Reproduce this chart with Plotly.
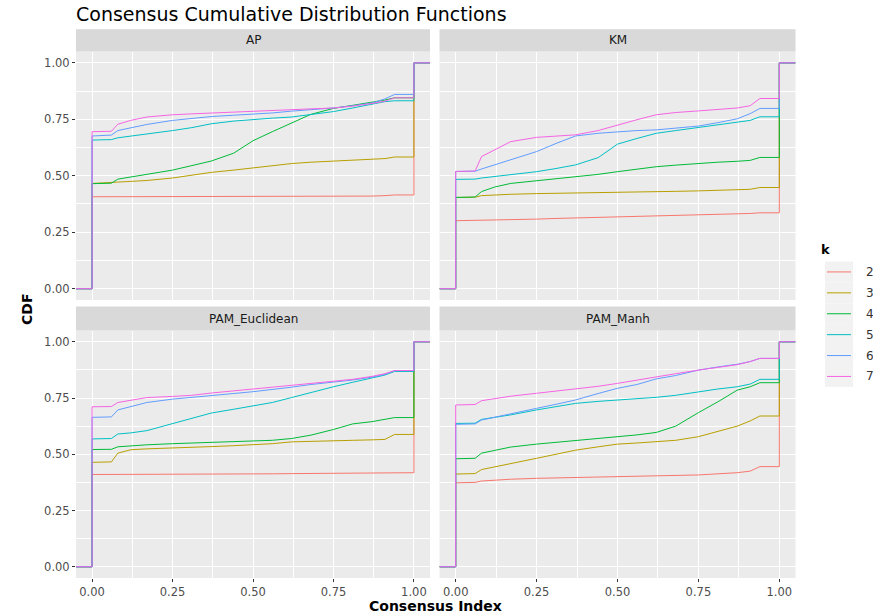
import plotly.graph_objects as go

W, H = 873, 615

# ---------------- data ----------------
PANELS = ["AP", "KM", "PAM_Euclidean", "PAM_Manh"]
K_LEVELS = ["2", "3", "4", "5", "6", "7"]
COLORS = ["#F8766D", "#B79F00", "#00BA38", "#00BFC4", "#619CFF", "#F564E3"]

# consensus-index positions where the CDF values below were read
GRID = [0, 0.06, 0.08, 0.12, 0.17, 0.25, 0.31, 0.37, 0.44, 0.50,
        0.56, 0.62, 0.68, 0.75, 0.81, 0.87, 0.91, 0.94]

AP_k2 = [0.407, 0.407, 0.407, 0.407, 0.407, 0.407, 0.407, 0.407, 0.407, 0.407,
         0.407, 0.407, 0.407, 0.408, 0.409, 0.410, 0.412, 0.415]
AP_k3 = [0.466, 0.468, 0.472, 0.475, 0.479, 0.490, 0.503, 0.515, 0.525, 0.535,
         0.545, 0.554, 0.560, 0.565, 0.569, 0.573, 0.576, 0.583]
AP_k4 = [0.465, 0.467, 0.485, 0.495, 0.508, 0.525, 0.545, 0.565, 0.600, 0.655,
         0.695, 0.735, 0.772, 0.798, 0.812, 0.825, 0.835, 0.845]
AP_k5 = [0.658, 0.660, 0.668, 0.675, 0.685, 0.700, 0.713, 0.730, 0.742, 0.750,
         0.755, 0.760, 0.772, 0.784, 0.800, 0.818, 0.828, 0.832]
AP_k6 = [0.676, 0.680, 0.700, 0.713, 0.727, 0.745, 0.755, 0.762, 0.768, 0.772,
         0.778, 0.786, 0.792, 0.800, 0.810, 0.822, 0.840, 0.860]
AP_k7 = [0.695, 0.697, 0.728, 0.745, 0.760, 0.770, 0.774, 0.778, 0.783, 0.787,
         0.790, 0.793, 0.796, 0.800, 0.808, 0.820, 0.830, 0.845]

KM_k2 = [0.301, 0.302, 0.303, 0.304, 0.306, 0.308, 0.311, 0.313, 0.316, 0.319,
         0.321, 0.323, 0.325, 0.327, 0.329, 0.331, 0.333, 0.336]
KM_k3 = [0.404, 0.405, 0.412, 0.416, 0.418, 0.421, 0.422, 0.424, 0.425, 0.427,
         0.428, 0.430, 0.431, 0.433, 0.435, 0.438, 0.440, 0.448]
KM_k4 = [0.404, 0.406, 0.430, 0.450, 0.466, 0.478, 0.486, 0.495, 0.506, 0.518,
         0.530, 0.540, 0.547, 0.555, 0.560, 0.564, 0.568, 0.581]
KM_k5 = [0.484, 0.485, 0.490, 0.496, 0.505, 0.518, 0.532, 0.548, 0.580, 0.640,
         0.665, 0.688, 0.700, 0.713, 0.724, 0.735, 0.745, 0.761]
KM_k6 = [0.519, 0.520, 0.530, 0.548, 0.570, 0.607, 0.643, 0.676, 0.688, 0.695,
         0.700, 0.703, 0.710, 0.720, 0.735, 0.752, 0.775, 0.798]
KM_k7 = [0.519, 0.521, 0.585, 0.614, 0.651, 0.670, 0.676, 0.681, 0.700, 0.725,
         0.748, 0.770, 0.780, 0.787, 0.793, 0.800, 0.810, 0.842]

PE_k2 = [0.410, 0.410, 0.410, 0.410, 0.410, 0.411, 0.411, 0.412, 0.412, 0.413,
         0.413, 0.414, 0.415, 0.416, 0.417, 0.417, 0.418, 0.418]
PE_k3 = [0.464, 0.466, 0.505, 0.520, 0.524, 0.527, 0.530, 0.534, 0.538, 0.542,
         0.547, 0.555, 0.558, 0.560, 0.562, 0.564, 0.566, 0.588]
PE_k4 = [0.521, 0.522, 0.533, 0.538, 0.542, 0.547, 0.550, 0.553, 0.556, 0.558,
         0.562, 0.570, 0.585, 0.610, 0.635, 0.645, 0.655, 0.663]
PE_k5 = [0.568, 0.570, 0.590, 0.595, 0.605, 0.635, 0.658, 0.683, 0.700, 0.714,
         0.730, 0.752, 0.775, 0.800, 0.820, 0.838, 0.852, 0.868]
PE_k6 = [0.664, 0.666, 0.697, 0.713, 0.730, 0.745, 0.752, 0.760, 0.770, 0.778,
         0.787, 0.798, 0.810, 0.820, 0.830, 0.843, 0.855, 0.872]
PE_k7 = [0.711, 0.712, 0.730, 0.740, 0.752, 0.757, 0.762, 0.772, 0.783, 0.790,
         0.798, 0.806, 0.814, 0.822, 0.833, 0.846, 0.858, 0.872]

PM_k2 = [0.373, 0.375, 0.381, 0.385, 0.389, 0.393, 0.395, 0.397, 0.399, 0.400,
         0.401, 0.402, 0.404, 0.408, 0.413, 0.418, 0.425, 0.445]
PM_k3 = [0.412, 0.414, 0.432, 0.443, 0.460, 0.482, 0.500, 0.518, 0.533, 0.545,
         0.550, 0.555, 0.562, 0.578, 0.600, 0.625, 0.648, 0.670]
PM_k4 = [0.480, 0.482, 0.505, 0.518, 0.532, 0.545, 0.553, 0.560, 0.570, 0.578,
         0.586, 0.597, 0.625, 0.685, 0.733, 0.785, 0.800, 0.818]
PM_k5 = [0.637, 0.638, 0.655, 0.663, 0.675, 0.697, 0.712, 0.726, 0.735, 0.741,
         0.746, 0.753, 0.762, 0.778, 0.790, 0.800, 0.812, 0.833]
PM_k6 = [0.633, 0.635, 0.652, 0.665, 0.680, 0.704, 0.722, 0.741, 0.770, 0.793,
         0.810, 0.835, 0.850, 0.874, 0.888, 0.900, 0.912, 0.926]
PM_k7 = [0.719, 0.721, 0.738, 0.748, 0.758, 0.771, 0.780, 0.789, 0.802, 0.815,
         0.830, 0.845, 0.858, 0.874, 0.885, 0.898, 0.912, 0.926]

SERIES = {
    "AP": [AP_k2, AP_k3, AP_k4, AP_k5, AP_k6, AP_k7],
    "KM": [KM_k2, KM_k3, KM_k4, KM_k5, KM_k6, KM_k7],
    "PAM_Euclidean": [PE_k2, PE_k3, PE_k4, PE_k5, PE_k6, PE_k7],
    "PAM_Manh": [PM_k2, PM_k3, PM_k4, PM_k5, PM_k6, PM_k7],
}

TICKS = [0, 0.25, 0.5, 0.75, 1.0]

# ---------------- layout geometry (pixels) ----------------
XR = [-0.05, 1.05]
YR = [-0.05, 1.05]
COLS = [(76, 430), (439.5, 795.5)]          # panel x extents
ROWS = [(51.5, 300), (330.5, 578)]          # panel y extents (top, bottom)
STRIPS = [(29.3, 51.5), (306.5, 330.5)]     # strip y extents


def px_x(p):
    return p / W


def px_y(p):
    return 1 - p / H


fig = go.Figure()

layout = dict(
    width=W, height=H,
    margin=dict(l=0, r=0, t=0, b=0),
    paper_bgcolor="white",
    plot_bgcolor="#EBEBEB",
    showlegend=False,
    font=dict(family="DejaVu Sans", color="#4D4D4D"),
)

shapes = []
annotations = []

for i, name in enumerate(PANELS):
    r, c = divmod(i, 2)
    ax = "" if i == 0 else str(i + 1)
    xa, ya = "x" + ax, "y" + ax
    for k, col, vals in zip(K_LEVELS, COLORS, SERIES[name]):
        # CDF is 0 left of 0, jumps at 0, and jumps to 1 at consensus index 1
        xs = [XR[0], 0.0] + GRID + [1.0, 1.0, XR[1]]
        ys = [0.0, 0.0] + vals + [vals[-1], 1.0, 1.0]
        fig.add_trace(go.Scatter(
            x=xs, y=ys,
            mode="lines", line=dict(color=col, width=1),
            name=k, xaxis=xa, yaxis=ya, hoverinfo="skip",
        ))
    common = dict(
        showgrid=True, gridcolor="white", gridwidth=1.1,
        zeroline=False, showline=False,
        tickvals=TICKS, tickformat=".2f",
        minor=dict(dtick=0.125, tick0=0, showgrid=True, gridcolor="white", gridwidth=0.55),
        tickfont=dict(size=11.5, color="#4D4D4D", family="DejaVu Sans"),
        ticklen=3, tickwidth=1, tickcolor="#333333",
        fixedrange=True,
    )
    x0, x1 = COLS[c]
    y_top, y_bot = ROWS[r]
    layout["xaxis" + ax] = dict(
        common, domain=[px_x(x0), px_x(x1)], range=XR, anchor=ya,
        ticks="outside" if r == 1 else "", showticklabels=(r == 1),
    )
    layout["yaxis" + ax] = dict(
        common, domain=[px_y(y_bot), px_y(y_top)], range=YR, anchor=xa,
        ticks="outside" if c == 0 else "", showticklabels=(c == 0),
    )
    s0, s1 = STRIPS[r]
    shapes.append(dict(type="rect", xref="paper", yref="paper",
                       x0=px_x(x0), x1=px_x(x1), y0=px_y(s1), y1=px_y(s0),
                       fillcolor="#D9D9D9", line=dict(width=0), layer="below"))
    annotations.append(dict(text=name, xref="paper", yref="paper",
                            x=px_x((x0 + x1) / 2), y=px_y((s0 + s1) / 2),
                            xanchor="center", yanchor="middle", showarrow=False,
                            font=dict(size=12, color="#1A1A1A", family="DejaVu Sans")))

# title and axis titles
annotations.append(dict(text="Consensus Cumulative Distribution Functions",
                        xref="paper", yref="paper", x=px_x(74), y=px_y(14),
                        xanchor="left", yanchor="middle", showarrow=False,
                        font=dict(size=19, color="black", family="DejaVu Sans")))
annotations.append(dict(text="<b>Consensus Index</b>", xref="paper", yref="paper",
                        x=px_x(435), y=px_y(606), xanchor="center", yanchor="middle",
                        showarrow=False,
                        font=dict(size=14, color="black", family="DejaVu Sans")))
annotations.append(dict(text="<b>CDF</b>", xref="paper", yref="paper",
                        x=px_x(27), y=px_y(310), xanchor="center", yanchor="middle",
                        showarrow=False, textangle=-90,
                        font=dict(size=14, color="black", family="DejaVu Sans")))

# legend (manual, ggplot style)
annotations.append(dict(text="<b>k</b>", xref="paper", yref="paper",
                        x=px_x(819), y=px_y(249), xanchor="left", yanchor="middle",
                        showarrow=False,
                        font=dict(size=13, color="black", family="DejaVu Sans")))
KEY_TOP, KEY_H = 261.5, 20.9
for j, (k, col) in enumerate(zip(K_LEVELS, COLORS)):
    t = KEY_TOP + j * KEY_H
    shapes.append(dict(type="rect", xref="paper", yref="paper",
                       x0=px_x(825), x1=px_x(853), y0=px_y(t + KEY_H), y1=px_y(t),
                       fillcolor="#F2F2F2", line=dict(width=0)))
    cy = t + KEY_H / 2
    shapes.append(dict(type="line", xref="paper", yref="paper",
                       x0=px_x(827), x1=px_x(851), y0=px_y(cy), y1=px_y(cy),
                       line=dict(color=col, width=1)))
    annotations.append(dict(text=k, xref="paper", yref="paper",
                            x=px_x(864), y=px_y(cy), xanchor="left", yanchor="middle",
                            showarrow=False,
                            font=dict(size=12, color="#333333", family="DejaVu Sans")))

layout["shapes"] = shapes
layout["annotations"] = annotations
fig.update_layout(**layout)

fig.write_html("out.html")
